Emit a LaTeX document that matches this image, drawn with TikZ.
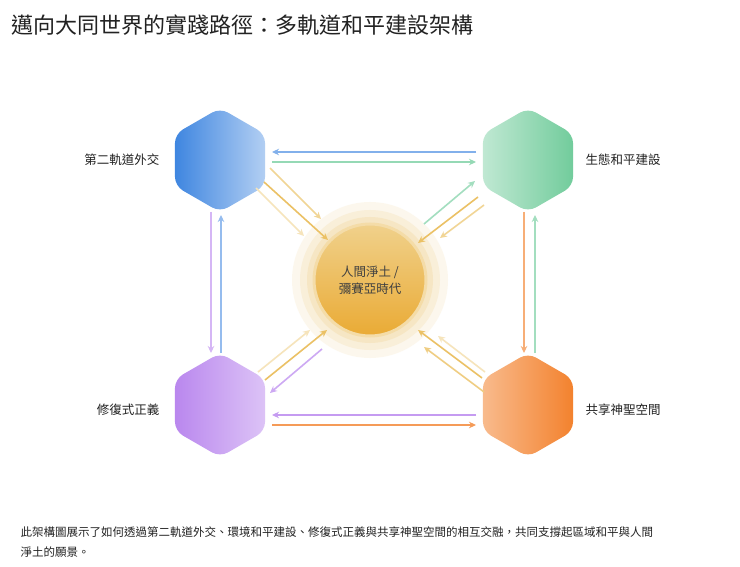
\documentclass[tikz,border=0pt]{standalone}
\usepackage{fontspec}
\setmainfont{Noto Sans CJK TC}
\usetikzlibrary{shapes.geometric,arrows.meta}
\definecolor{cblue}{HTML}{3F86E0}
\definecolor{cgreen}{HTML}{72CC9C}
\definecolor{cpurple}{HTML}{B27AEC}
\definecolor{corange}{HTML}{F3822E}
\definecolor{cgold}{HTML}{E6B23E}
\definecolor{tx}{HTML}{222222}
\tikzset{
 hex/.style={regular polygon,regular polygon sides=6,shape border rotate=30,minimum size=104pt,rounded corners=9pt,inner sep=0pt},
 lab/.style={font=\fontsize{12.5}{14}\selectfont,text=tx},
 conn/.style={line width=1.6pt,-{Stealth[length=7pt,width=6.5pt]}},
}
\begin{document}
\begin{tikzpicture}[x=1pt,y=-1pt]
\useasboundingbox (0,0) rectangle (740,567);
\fill[white] (0,0) rectangle (740,567);
\node[anchor=west,font=\fontsize{22}{25}\selectfont,text=tx] (title) at (8,25) {邁向大同世界的實踐路徑：多軌道和平建設架構};
% center
\foreach \r/\o in {78/0.18,70/0.25,63/0.35}{\fill[cgold!50,opacity=\o] (370,280) circle (\r);}
\node[circle,minimum size=112pt,inner sep=0pt,top color=cgold!60,bottom color=cgold!85!orange,draw=cgold!45,line width=3pt,align=center,font=\fontsize{12.5}{17}\selectfont,text=black!75] (c) at (370,280) {人間淨土 /\\彌賽亞時代};
% hexes
\node[hex,left color=cblue,right color=cblue!40] (tl) at (220,160) {};
\node[hex,left color=cgreen!45,right color=cgreen] (tr) at (528,160) {};
\node[hex,left color=cpurple!90,right color=cpurple!45] (bl) at (220,405) {};
\node[hex,left color=corange!55,right color=corange] (br) at (528,405) {};
\node[lab,anchor=east] (ltl) at (163,160) {第二軌道外交};
\node[lab,anchor=west] (ltr) at (582,160) {生態和平建設};
\node[lab,anchor=east] (lbl) at (163,410) {修復式正義};
\node[lab,anchor=west] (lbr) at (582,410) {共享神聖空間};
% horizontal
\draw[conn,cblue!65] ([shift={(-52,-8)}]tr.center) -- ([shift={(52,-8)}]tl.center);
\draw[conn,cgreen!75] ([shift={(52,2)}]tl.center) -- ([shift={(-52,2)}]tr.center);
\draw[conn,cpurple!75] ([shift={(-52,10)}]br.center) -- ([shift={(52,10)}]bl.center);
\draw[conn,corange!80] ([shift={(52,20)}]bl.center) -- ([shift={(-52,20)}]br.center);
% vertical
\draw[conn,cpurple!55] ([shift={(-9,52)}]tl.center) -- ([shift={(-9,-52)}]bl.center);
\draw[conn,cblue!55] ([shift={(1,-52)}]bl.center) -- ([shift={(1,55)}]tl.center);
\draw[conn,corange!65] ([shift={(-4,52)}]tr.center) -- ([shift={(-4,-52)}]br.center);
\draw[conn,cgreen!65] ([shift={(7,-52)}]br.center) -- ([shift={(7,55)}]tr.center);
% diagonals
\draw[conn,cgold!55] (270,168) -- (321,219);
\draw[conn,cgold!35] (256,188) -- (304,236);
\draw[conn,cgold!80] (264,182) -- (328,240);
\draw[conn,cgreen!65] (424,224) -- (475,181);
\draw[conn,cgold!80] (478,197) -- (418,243);
\draw[conn,cgold!55] (484,205) -- (440,238);
\draw[conn,cgold!80] (265,380) -- (327,330);
\draw[conn,cgold!35] (258,372) -- (310,330);
\draw[conn,cpurple!65] (322,349) -- (270,393);
\draw[conn,cgold!80] (482,378) -- (418,330);
\draw[conn,cgold!65] (484,392) -- (424,347);
\draw[conn,cgold!35] (485,372) -- (438,336);
\node[anchor=north west,align=left,font=\fontsize{11.5}{20}\selectfont,text=tx] (cap) at (17,523) {此架構圖展示了如何透過第二軌道外交、環境和平建設、修復式正義與共享神聖空間的相互交融，共同支撐起區域和平與人間\\淨土的願景。};
\end{tikzpicture}
\end{document}
